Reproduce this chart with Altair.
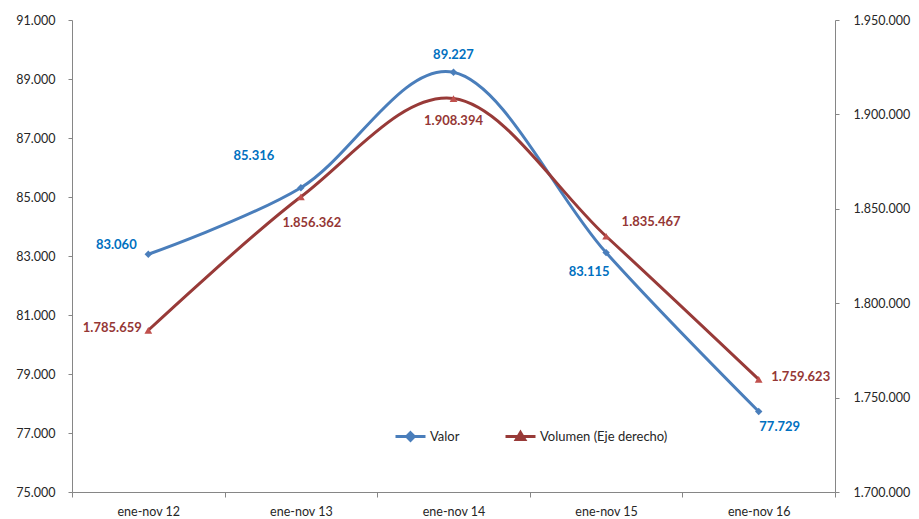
import altair as alt
import pandas as pd

categories = ["ene-nov 12", "ene-nov 13", "ene-nov 14", "ene-nov 15", "ene-nov 16"]
valor = [83060, 85316, 89227, 83115, 77729]
volumen = [1785659, 1856362, 1908394, 1835467, 1759623]
left_ticks = list(range(75000, 91001, 2000))
right_ticks = list(range(1700000, 1950001, 50000))

df = pd.DataFrame({"cat": categories, "valor": valor, "volumen": volumen})

FONT = "Lato"
BLUE = "#4A7EBB"
RED_LINE = "#983A38"
RED_MARK = "#C0504D"
BLUE_TXT = "#0070C0"
RED_TXT = "#953735"
AX = "#868686"
TXT = "#262626"

x_enc = alt.X(
    "cat:N", sort=categories, bandPosition=0.5,
    scale=alt.Scale(type="band", paddingInner=0, paddingOuter=0),
    axis=alt.Axis(title=None, tickBand="extent", labelAngle=0, labelPadding=8,
                  tickSize=5),
)

base = alt.Chart(df)

# label offsets (dx, dy) per category for each series
valor_off = [(-32, -9), (-47, -32), (0, -17), (-17, 19), (21, 16)]
vol_off = [(-36, -2), (11, 26), (0, 22), (45, -14), (42, -2)]

y_left = alt.Y("valor:Q", scale=alt.Scale(domain=[75000, 91000], nice=False, zero=False),
               axis=alt.Axis(title=None, orient="left", values=left_ticks, format=",.0f",
                             tickSize=4, labelPadding=13))
y_right = alt.Y("volumen:Q", scale=alt.Scale(domain=[1700000, 1950000], nice=False, zero=False),
                axis=alt.Axis(title=None, orient="right", values=right_ticks, format=",.0f",
                              tickSize=4, labelPadding=14))

valor_legend_path = "M-1.5,0L1.5,0M0,-0.38L0.38,0L0,0.38L-0.38,0Z"
vol_legend_path = "M-1.5,0L1.5,0M0,-0.4L0.42,0.3L-0.42,0.3Z"

valor_line = base.mark_line(interpolate="cardinal", strokeWidth=3).encode(
    x=x_enc, y=y_left,
    color=alt.Color("serie:N", scale=alt.Scale(domain=["Valor"], range=[BLUE]),
                    legend=alt.Legend(title=None, orient="none", legendX=327, legendY=405,
                                      symbolType=valor_legend_path, symbolSize=400,
                                      symbolStrokeWidth=3, symbolFillColor=BLUE,
                                      labelFont=FONT, labelFontSize=13, labelColor=TXT,
                                      labelOffset=8)),
).transform_calculate(serie="'Valor'")
valor_pts = base.mark_point(shape="diamond", filled=True, size=55, color=BLUE, opacity=1).encode(
    x=x_enc, y=y_left)
valor_txt = [
    base.transform_filter(alt.datum.cat == c).mark_text(
        font=FONT, fontSize=13, fontWeight="bold", color=BLUE_TXT, dx=dx, dy=dy,
        baseline="middle", align="center"
    ).encode(x=x_enc, y=y_left, text=alt.Text("valor:Q", format=",.0f"))
    for c, (dx, dy) in zip(categories, valor_off)
]

vol_line = base.mark_line(interpolate="cardinal", strokeWidth=3).encode(
    x=x_enc, y=y_right,
    color=alt.Color("serie:N", scale=alt.Scale(domain=["Volumen (Eje derecho)"], range=[RED_LINE]),
                    legend=alt.Legend(title=None, orient="none", legendX=437, legendY=405,
                                      symbolType=vol_legend_path, symbolSize=400,
                                      symbolStrokeWidth=3, symbolFillColor=RED_MARK,
                                      labelFont=FONT, labelFontSize=13, labelColor=TXT,
                                      labelOffset=8)),
).transform_calculate(serie="'Volumen (Eje derecho)'")
vol_pts = base.mark_point(shape="triangle-up", filled=True, size=60, color=RED_MARK, opacity=1).encode(
    x=x_enc, y=y_right)
vol_txt = [
    base.transform_filter(alt.datum.cat == c).mark_text(
        font=FONT, fontSize=13, fontWeight="bold", color=RED_TXT, dx=dx, dy=dy,
        baseline="middle", align="center"
    ).encode(x=x_enc, y=y_right, text=alt.Text("volumen:Q", format=",.0f"))
    for c, (dx, dy) in zip(categories, vol_off)
]

left_layer = alt.layer(valor_line, valor_pts, *valor_txt)
right_layer = alt.layer(vol_line, vol_pts, *vol_txt)

chart = alt.layer(left_layer, right_layer).resolve_scale(
    y="independent", color="independent"
).properties(
    width=763, height=472,
    autosize=alt.AutoSizeParams(type="none"),
    padding={"left": 64, "top": 12, "right": 76, "bottom": 25},
    background="white",
).configure_view(stroke=None).configure_axis(
    grid=False, domainColor=AX, tickColor=AX, labelColor=TXT,
    labelFont=FONT, labelFontSize=12.5, domainWidth=1, tickWidth=1,
)

chart.save("out.html", embed_options={
    "renderer": "svg", "actions": False,
    "formatLocale": {"decimal": ",", "thousands": ".", "grouping": [3], "currency": ["", " €"]},
})
